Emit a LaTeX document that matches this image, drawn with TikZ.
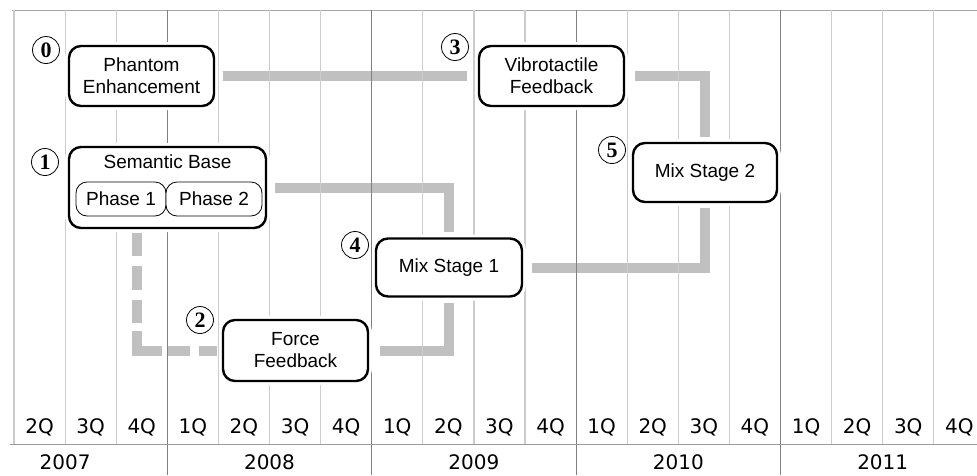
\documentclass[tikz,border=0pt]{standalone}
\usepackage{fontspec}
\setmainfont{Liberation Sans}
\newfontfamily\axisfont{DejaVu Sans}
\newfontfamily\numfont{Liberation Serif}
\usetikzlibrary{backgrounds,positioning}

\definecolor{flowgray}{RGB}{192,192,192}
\definecolor{gridgray}{RGB}{204,204,204}
\definecolor{yeargray}{RGB}{128,128,128}

\tikzset{
  stagebox/.style={draw,line width=2.4pt,rounded corners=12pt,fill=white,
    preaction={draw=white,line width=8pt},align=center,inner sep=0pt,
    font=\fontsize{19}{22}\selectfont},
  phasebox/.style={draw,line width=0.8pt,rounded corners=11pt,fill=white,
    inner sep=0pt,minimum height=34pt,font=\fontsize{19}{22}\selectfont},
  num/.style={circle,draw,line width=0.8pt,minimum size=27pt,inner sep=0pt,
    font=\numfont\bfseries\fontsize{22}{22}\selectfont},
  flow/.style={draw=flowgray,line width=10pt},
  qline/.style={draw=gridgray,line width=1.2pt},
  yline/.style={draw=yeargray,line width=1pt},
  qlabel/.style={font=\axisfont\fontsize{20}{20}\selectfont}
}

\begin{document}
\begin{tikzpicture}[x=1pt,y=-1pt]
  \useasboundingbox (0,0) rectangle (977,475);
% time axis
  \draw[draw=yeargray!70] (12,10) -- (977,10);
  \foreach \k in {0,...,18}
    \draw[qline] ({14+\k*51.1},10) -- ({14+\k*51.1},444);
  \foreach \k in {3,7,11,15}
    \draw[yline] ({14+\k*51.1},10) -- ({14+\k*51.1},475);
  \draw[draw=yeargray!80] (10,444) -- (977,444);
  \foreach \k/\q in {0/2,1/3,2/4,3/1,4/2,5/3,6/4,7/1,8/2,9/3,10/4,11/1,12/2,13/3,14/4,15/1,16/2,17/3,18/4}
    \node[qlabel] (q\k) at ({14+(\k+0.5)*51.1},427) {\q Q};
  \foreach \i/\yr in {0/2007,1/2008,2/2009,3/2010,4/2011}
    \node[qlabel] (yr\i) at ({14+(4*\i+1)*51.1},462) {\yr};

% stages
  \node[stagebox,minimum width=145pt,minimum height=60pt] (phantom) at (141.5,76) {Phantom\\Enhancement};
  \node[stagebox,minimum width=197pt,minimum height=81pt] (semantic) at (167.5,187.5) {};
  \node[below=5pt of semantic.north,font=\fontsize{19}{22}\selectfont] (semtitle) {Semantic Base};
  \node[phasebox,minimum width=90pt] (phase1) at (121,199) {Phase 1};
  \node[phasebox,minimum width=96pt] (phase2) at (214,199) {Phase 2};
  \node[stagebox,minimum width=145pt,minimum height=61pt] (force) at (295.5,350.5) {Force\\Feedback};
  \node[stagebox,minimum width=145pt,minimum height=60pt] (vibro) at (551.5,76) {Vibrotactile\\Feedback};
  \node[stagebox,minimum width=146pt,minimum height=58pt] (mix1) at (449,267.5) {Mix Stage 1};
  \node[stagebox,minimum width=144pt,minimum height=59pt] (mix2) at (705,172.5) {Mix Stage 2};

  \node[num] (n0) at (46,50) {0};
  \node[num] (n1) at (45,162) {1};
  \node[num] (n2) at (200,320) {2};
  \node[num] (n3) at (455,47) {3};
  \node[num] (n4) at (355,245) {4};
  \node[num] (n5) at (612,150) {5};

% dependencies
  \begin{scope}[on background layer]
    \draw[flow,shorten <=8pt,shorten >=11pt] (phantom.east) -- (vibro.west);
    \draw[flow,shorten <=10pt,shorten >=5pt] (vibro.east) -| (mix2.north);
    \draw[flow,shorten <=8pt,shorten >=5pt] (semantic.east) -| (mix1.north);
    \draw[flow,shorten <=11pt,shorten >=5pt] (force.east) -| (mix1.south);
    \draw[flow,shorten <=9pt,shorten >=5pt] (mix1.east) -| (mix2.south);
    \draw[flow,dash pattern=on 23pt off 10pt on 24pt off 10pt on 23pt off 8pt on 44pt off 6pt on 22pt off 9pt on 30pt off 9pt,
      shorten <=4pt,shorten >=5pt]
      ([xshift=-30.5pt]semantic.south) |- (force.west);
  \end{scope}
\end{tikzpicture}
\end{document}
